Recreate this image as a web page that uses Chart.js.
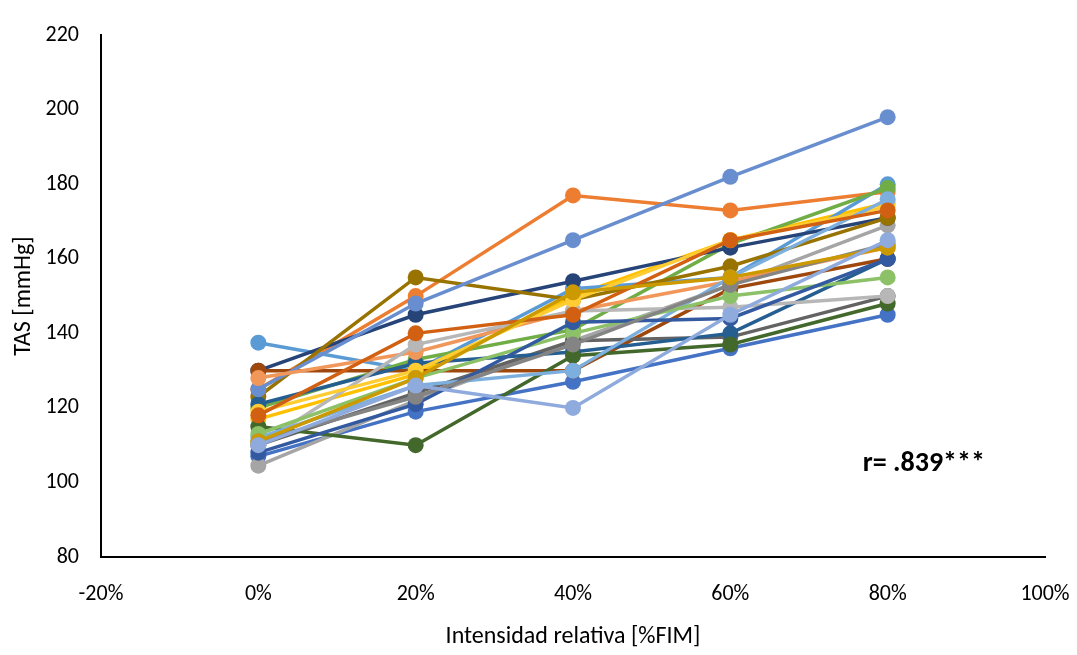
<!DOCTYPE html>
<html>
<head>
<meta charset="utf-8">
<script src="https://cdn.jsdelivr.net/npm/chart.js@4/dist/chart.umd.min.js"></script>
<style>
  html, body { margin: 0; padding: 0; background: #fff; }
  #wrap { width: 1077px; height: 655px; }
</style>
</head>
<body>
<div id="wrap"><canvas id="chart" width="1077" height="655"></canvas></div>
<script>
// intensity levels (%FIM) where each subject was measured
const intensity = [0, 20, 40, 60, 80];
const xTicks = [-20, 0, 20, 40, 60, 80, 100];
const yTicks = [80, 100, 120, 140, 160, 180, 200, 220];

// TAS [mmHg] per subject, one small array each
const s1  = [107, 119, 127, 136, 145];
const s2  = [125, 150, 177, 173, 178];
const s3  = [104.5, 122, 138, 153, 169];
const s4  = [117, 129, 150, 165, 175];
const s5  = [137.5, 130, 152, 155, 180];
const s6  = [120, 133, 141, 164, 179];
const s7  = [130, 145, 154, 163, 171];
const s8  = [130, 130, 130, 152, 160];
const s9  = [110, 124, 138, 139, 150];
const s10 = [123, 155, 149, 158, 171];
const s11 = [121, 132, 135, 140, 160];
const s12 = [115, 110, 134, 137, 148];
const s13 = [125, 148, 165, 182, 198];
const s14 = [128, 135, 146, 154, 163];
const s15 = [110, 137, 146, 147, 150];
const s16 = [119, 130, 149, 165, 174];
const s17 = [112, 126, 130, 155, 176];
const s18 = [113, 128, 140, 150, 155];
const s19 = [108, 121, 143, 144, 160];
const s20 = [118, 140, 145, 165, 173];
const s21 = [111, 123, 137, 153, 164];
const s22 = [111, 128, 151, 155, 163];
const s23 = [110, 126, 120, 145, 165];

const subjects = [s1, s2, s3, s4, s5, s6, s7, s8, s9, s10, s11, s12,
                  s13, s14, s15, s16, s17, s18, s19, s20, s21, s22, s23];

const rLabel = 'r= .839***';

// office palette, in series order
const colors = ['#4472C4', '#ED7D31', '#A5A5A5', '#FFC000', '#5B9BD5', '#70AD47',
                '#264478', '#9E480E', '#636363', '#997300', '#255E91', '#43682B',
                '#698ED0', '#F1975A', '#B7B7B7', '#FFCD33', '#7CAFDD', '#8CC168',
                '#335AA1', '#D26012', '#848484', '#CC9A00', '#8FAADC'];

const font = 'Calibri, Carlito, Lato, sans-serif';

const datasets = subjects.map((vals, i) => ({
    label: 'S' + (i + 1),
    data: vals.map((v, k) => ({ x: intensity[k], y: v })),
    borderColor: colors[i],
    backgroundColor: colors[i],
    borderWidth: 3.5,
    pointRadius: 8,
    pointBorderWidth: 0,
    order: subjects.length - i
}));

// the r value written inside the plot
const rText = {
    id: 'rText',
    afterDatasetsDraw(chart) {
        const ctx = chart.ctx;
        const x = chart.scales.x.getPixelForValue(84.6);
        const y = chart.scales.y.getPixelForValue(105);
        ctx.save();
        ctx.font = 'bold 28px ' + font;
        ctx.fillStyle = '#000';
        ctx.textAlign = 'center';
        ctx.textBaseline = 'middle';
        ctx.fillText(rLabel, x, y);
        ctx.restore();
    }
};

Chart.defaults.font.family = font;
Chart.defaults.color = '#000';

const chart = document.querySelector('#chart');

new Chart(chart, {
    type: 'line',
    data: { datasets },
    plugins: [rText],
    options: {
        responsive: false,
        devicePixelRatio: 1,
        animation: false,
        layout: { padding: { top: 22, right: 32, left: 0, bottom: 0 } },
        plugins: { legend: { display: false }, tooltip: { enabled: false } },
        scales: {
            x: {
                type: 'linear',
                min: -20,
                max: 100,
                afterBuildTicks: (axis) => { axis.ticks = xTicks.map(v => ({ value: v })); },
                ticks: { callback: v => v + '%', font: { size: 22 }, padding: 24, maxRotation: 0 },
                grid: { display: false, drawTicks: false },
                border: { color: '#000', width: 2 },
                title: { display: true, text: 'Intensidad relativa [%FIM]', font: { size: 24 }, padding: { top: 12 } },
                afterFit: (axis) => {
                    axis.height = 98;
                    axis.paddingLeft = 0;
                    axis.paddingRight = 0;
                }
            },
            y: {
                min: 80,
                max: 220,
                afterBuildTicks: (axis) => { axis.ticks = yTicks.map(v => ({ value: v })); },
                ticks: { font: { size: 22 }, padding: 22 },
                grid: { display: false, drawTicks: false },
                border: { color: '#000', width: 2 },
                title: { display: true, text: 'TAS [mmHg]', font: { size: 24 }, padding: { top: 10, bottom: 4 } },
                afterFit: (axis) => { axis.width = 101; }
            }
        }
    }
});
</script>
</body>
</html>
